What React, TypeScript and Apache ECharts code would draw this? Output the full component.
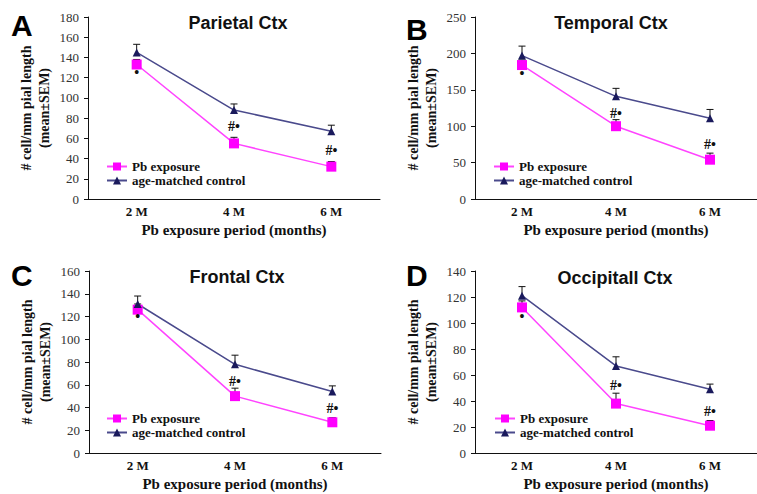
import React, { useEffect, useRef } from "react";
import * as echarts from "echarts";

const categories = ["2 M", "4 M", "6 M"];
const seriesNames = ["Pb exposure", "age-matched control"];
const panelLetters = ["A", "B", "C", "D"];
const panelTitles = ["Parietal Ctx", "Temporal Ctx", "Frontal Ctx", "Occipitall Ctx"];
const yMax = [180, 250, 160, 140];
const yInterval = [20, 50, 20, 20];

// mean values
const pbMean = [
  [133, 55, 32],
  [184, 100, 54],
  [126, 50, 27],
  [112, 38, 21],
];
const ctrlMean = [
  [145, 88, 67],
  [197, 141, 111],
  [131, 78, 54],
  [121, 67, 49],
];
// SEM values
const pbSem = [
  [5, 6, 5],
  [7, 9, 9],
  [5, 7, 4],
  [5, 8, 4],
];
const ctrlSem = [
  [8, 6, 6],
  [13, 11, 12],
  [7, 8, 5],
  [7, 7, 4],
];
// significance marks: text and the y value where they sit
const markTexts = ["•", "#•", "#•"];
const markY = [
  [125, 72, 48],
  [172, 118, 75],
  [120, 63, 39],
  [105, 52, 32],
];

const SERIF = "Liberation Serif";
const SANS = "Liberation Sans";
const PB_LINE = "#ff44ff";
const PB_MARK = "#ff00ff";
const CT_LINE = "#4a4a8c";
const CT_MARK = "#1a1a5c";

const grids = [
  { left: 88, top: 17, width: 292, height: 182 },
  { left: 475, top: 17, width: 291, height: 182 },
  { left: 89, top: 271, width: 292, height: 182 },
  { left: 475, top: 271, width: 291, height: 182 },
];
const legendPos = [
  { left: 101, top: 155 },
  { left: 488, top: 155 },
  { left: 101, top: 407 },
  { left: 489, top: 407 },
];
const titlePos = [
  { x: 238, y: 23 },
  { x: 611, y: 23 },
  { x: 237, y: 277 },
  { x: 615, y: 278 },
];
const letterPos = [
  { x: 11, y: 10 },
  { x: 406, y: 14 },
  { x: 11, y: 260 },
  { x: 406, y: 260 },
];

function errorRender(semArr: number[]) {
  return (params: any, api: any) => {
    const i = api.value(0);
    const v = api.value(1);
    const e = semArr[params.dataIndex];
    const p0 = api.coord([i, v]);
    const p1 = api.coord([i, v + e]);
    return {
      type: "group",
      children: [
        { type: "line", shape: { x1: p0[0], y1: p0[1], x2: p1[0], y2: p1[1] }, style: { stroke: "#111", lineWidth: 1 } },
        { type: "line", shape: { x1: p1[0] - 3.5, y1: p1[1], x2: p1[0] + 3.5, y2: p1[1] }, style: { stroke: "#111", lineWidth: 1 } },
      ],
    };
  };
}

function markRender(params: any, api: any) {
  const i = api.value(0);
  const v = api.value(1);
  const p = api.coord([i, v]);
  return {
    type: "text",
    x: p[0],
    y: p[1],
    style: {
      text: markTexts[params.dataIndex],
      fill: "#111",
      fontFamily: SERIF,
      fontWeight: "bold",
      fontSize: 14,
      align: "center",
      verticalAlign: "middle",
    },
  };
}

export default function App() {
  const ref = useRef<HTMLDivElement>(null);
  useEffect(() => {
    if (!ref.current) return;
    const chart = echarts.init(ref.current, undefined, { renderer: "svg" });
    const xAxis: any[] = [];
    const yAxis: any[] = [];
    const series: any[] = [];
    const legend: any[] = [];
    const graphic: any[] = [];
    for (let k = 0; k < 4; k++) {
      xAxis.push({
        type: "category",
        gridIndex: k,
        data: categories,
        boundaryGap: true,
        axisLine: { lineStyle: { color: "#111", width: 1 } },
        axisTick: { inside: true, length: 4, lineStyle: { color: "#111" } },
        axisLabel: { color: "#111", fontFamily: SERIF, fontWeight: "bold", fontSize: 13, margin: 6 },
        name: "Pb exposure period (months)",
        nameLocation: "middle",
        nameGap: 23,
        nameTextStyle: { color: "#111", fontFamily: SERIF, fontWeight: "bold", fontSize: 15 },
      });
      yAxis.push({
        type: "value",
        gridIndex: k,
        min: 0,
        max: yMax[k],
        interval: yInterval[k],
        splitLine: { show: false },
        axisLine: { show: true, lineStyle: { color: "#111", width: 1 } },
        axisTick: { show: true, length: 4, lineStyle: { color: "#111" } },
        axisLabel: { color: "#333", fontFamily: SERIF, fontSize: 13, margin: 9 },
        name: "# cell/mm pial length\n(mean±SEM)",
        nameLocation: "middle",
        nameRotate: 90,
        nameGap: 35,
        nameTextStyle: { color: "#111", fontFamily: SERIF, fontWeight: "bold", fontSize: 14, lineHeight: 18 },
      });
      series.push({
        type: "custom",
        name: "pbErr" + k,
        xAxisIndex: k,
        yAxisIndex: k,
        renderItem: errorRender(pbSem[k]),
        data: pbMean[k].map((v, i) => [i, v]),
        z: 1,
        silent: true,
      });
      series.push({
        type: "custom",
        name: "ctErr" + k,
        xAxisIndex: k,
        yAxisIndex: k,
        renderItem: errorRender(ctrlSem[k]),
        data: ctrlMean[k].map((v, i) => [i, v]),
        z: 1,
        silent: true,
      });
      series.push({
        type: "line",
        name: seriesNames[0],
        xAxisIndex: k,
        yAxisIndex: k,
        data: pbMean[k],
        symbol: "rect",
        symbolSize: 10,
        lineStyle: { color: PB_LINE, width: 1.5 },
        itemStyle: { color: PB_MARK },
        z: 3,
      });
      series.push({
        type: "line",
        name: seriesNames[1],
        xAxisIndex: k,
        yAxisIndex: k,
        data: ctrlMean[k],
        symbol: "triangle",
        symbolSize: 8,
        lineStyle: { color: CT_LINE, width: 1.5 },
        itemStyle: { color: CT_MARK },
        z: 3,
      });
      series.push({
        type: "custom",
        name: "marks" + k,
        xAxisIndex: k,
        yAxisIndex: k,
        renderItem: markRender,
        data: markY[k].map((v, i) => [i, v]),
        z: 4,
        silent: true,
      });
      legend.push({
        data: seriesNames,
        orient: "vertical",
        left: legendPos[k].left,
        top: legendPos[k].top,
        itemWidth: 20,
        itemHeight: 10,
        itemGap: 1,
        textStyle: { color: "#111", fontFamily: SERIF, fontWeight: "bold", fontSize: 13, lineHeight: 13 },
      });
      graphic.push({
        type: "text",
        x: titlePos[k].x,
        y: titlePos[k].y,
        style: {
          text: panelTitles[k],
          fill: "#111",
          fontFamily: SANS,
          fontWeight: "bold",
          fontSize: 18,
          align: "center",
          verticalAlign: "middle",
        },
      });
      graphic.push({
        type: "text",
        x: letterPos[k].x,
        y: letterPos[k].y,
        z: 10,
        style: {
          text: panelLetters[k],
          fill: "#000",
          fontFamily: SANS,
          fontWeight: "bold",
          fontSize: 30,
          align: "left",
          verticalAlign: "top",
        },
      });
    }
    chart.setOption({
      animation: false,
      backgroundColor: "#fff",
      grid: grids.map((g) => ({ ...g, containLabel: false })),
      xAxis,
      yAxis,
      series,
      legend,
      graphic,
    });
    return () => chart.dispose();
  }, []);
  return <div ref={ref} style={{ position: "fixed", left: 0, top: 0, width: 757, height: 494 }} />;
}
